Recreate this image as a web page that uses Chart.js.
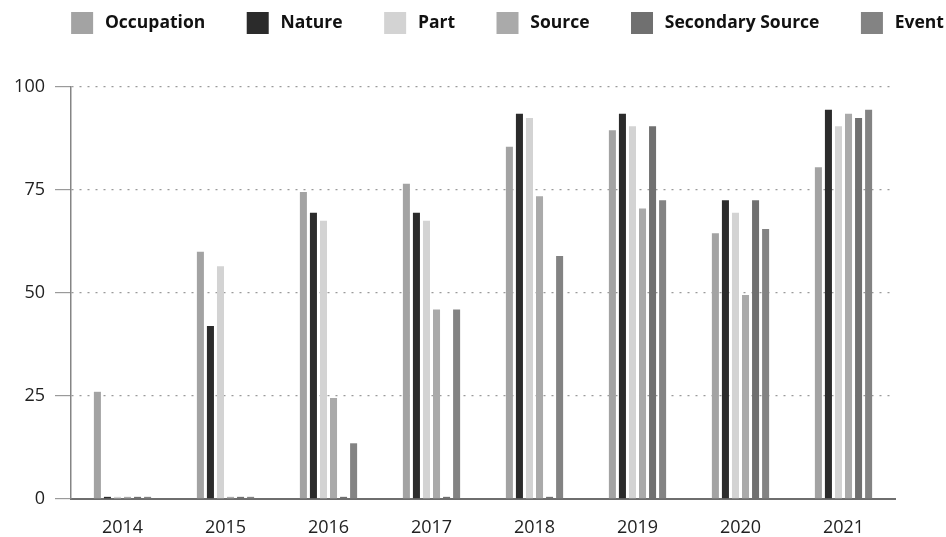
<!DOCTYPE html>
<html>
<head>
<meta charset="utf-8">
<script src="https://cdn.jsdelivr.net/npm/chart.js@4"></script>
<style>
  html, body { margin: 0; padding: 0; background: #fff; overflow: hidden; }
  #wrap { width: 946px; height: 537px; overflow: hidden; }
</style>
</head>
<body>
<div id="wrap">
  <canvas id="bar-chart" width="1000" height="537"></canvas>
</div>
<script>
  var years = ['2014', '2015', '2016', '2017', '2018', '2019', '2020', '2021'];
  var seriesNames = ['Occupation', 'Nature', 'Part', 'Source', 'Secondary Source', 'Event'];
  var occupation = [26, 60, 74.5, 76.5, 85.5, 89.5, 64.5, 80.5];
  var nature = [0.5, 42, 69.5, 69.5, 93.5, 93.5, 72.5, 94.5];
  var part = [0.5, 56.5, 67.5, 67.5, 92.5, 90.5, 69.5, 90.5];
  var source = [0.5, 0.5, 24.5, 46, 73.5, 70.5, 49.5, 93.5];
  var secondarySource = [0.5, 0.5, 0.5, 0.5, 0.5, 90.5, 72.5, 92.5];
  var event = [0.5, 0.5, 13.5, 46, 59, 72.5, 65.5, 94.5];
  var yTicks = [0, 25, 50, 75, 100];

  var seriesValues = [occupation, nature, part, source, secondarySource, event];
  var seriesColors = ['#a3a3a3', '#2b2b2b', '#d3d3d3', '#aaaaaa', '#707070', '#838383'];

  var datasets = [];
  for (var i = 0; i < seriesNames.length; i++) {
      datasets.push({
          label: seriesNames[i],
          data: seriesValues[i],
          backgroundColor: seriesColors[i],
          borderWidth: 0,
          categoryPercentage: 0.585,
          barPercentage: 0.7
      });
  }

  // push the plot down below the legend
  var legendGap = {
      id: 'legendGap',
      beforeLayout: function(chart) {
          if (chart.legend && !chart.legend._gapPatched) {
              var fit = chart.legend.fit;
              chart.legend.fit = function() {
                  fit.call(this);
                  this.height += 40;
              };
              chart.legend._gapPatched = true;
          }
      }
  };

  var barChartConfig = {
      type: 'bar',
      data: {
          labels: years,
          datasets: datasets
      },
      options: {
          responsive: false,
          animation: false,
          layout: {
              padding: { left: 12, top: -29.5, right: 0, bottom: -19.5 }
          },
          plugins: {
              tooltip: { enabled: false },
              legend: {
                  position: 'top',
                  align: 'center',
                  labels: {
                      color: '#111',
                      font: { family: 'Open Sans', size: 17.5, weight: 'bold' },
                      boxWidth: 28,
                      boxHeight: 28,
                      padding: 38.5,
                      generateLabels: function(chart) {
                          var items = Chart.defaults.plugins.legend.labels.generateLabels(chart);
                          items.forEach(function(item) {
                              item.strokeStyle = '#ffffff';
                              item.lineWidth = 6;
                          });
                          return items;
                      }
                  }
              }
          },
          scales: {
              x: {
                  grid: { display: true, drawOnChartArea: false, drawTicks: false },
                  border: { display: true, color: '#6e6e6e', width: 2 },
                  ticks: {
                      color: '#222',
                      font: { family: 'Open Sans', size: 18 },
                      padding: 18
                  }
              },
              y: {
                  min: 0,
                  max: 100,
                  afterFit: function(scale) { scale.width = 59; },
                  afterBuildTicks: function(scale) {
                      scale.ticks = yTicks.map(function(v) { return { value: v }; });
                  },
                  grid: {
                      color: '#9a9a9a',
                      lineWidth: 1.2,
                      tickLength: 16,
                      tickColor: '#9a9a9a',
                      tickBorderDash: []
                  },
                  border: { display: true, color: '#858585', width: 1.5, dash: [2, 6] },
                  ticks: {
                      color: '#222',
                      font: { family: 'Open Sans', size: 18 },
                      padding: 10
                  }
              },
              spacer: {
                  position: 'right',
                  display: true,
                  grid: { display: false },
                  border: { display: false },
                  ticks: { display: false },
                  afterFit: function(scale) { scale.width = 105; }
              }
          }
      },
      plugins: [legendGap]
  };

  window.onload = function() {
      var ctx = document.getElementById('bar-chart').getContext('2d');
      window.myBar = new Chart(ctx, barChartConfig);
  };
</script>
</body>
</html>
